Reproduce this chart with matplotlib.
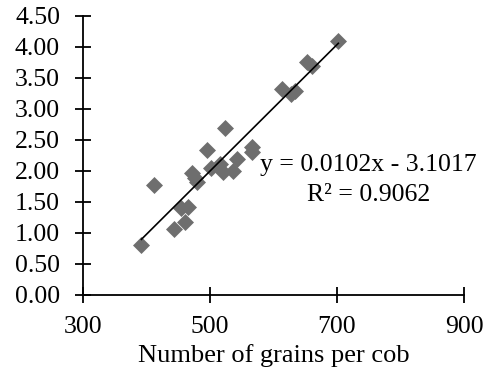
import matplotlib
matplotlib.use("Agg")
import matplotlib.pyplot as plt
import numpy as np

grains = [392, 412, 444, 461, 455, 466, 471, 476, 479, 496, 502, 516, 520, 524,
          536, 542, 566, 566, 613, 627, 634, 652, 660, 702]
yield_vals = [0.81, 1.77, 1.06, 1.18, 1.40, 1.42, 1.96, 1.88, 1.82, 2.33, 2.04, 2.12,
              1.99, 2.69, 2.00, 2.19, 2.39, 2.30, 3.32, 3.24, 3.29, 3.76, 3.69, 4.09]
slope, intercept = 0.0102, -3.1017
xticks = [300, 500, 700, 900]
yticks = [0.0, 0.5, 1.0, 1.5, 2.0, 2.5, 3.0, 3.5, 4.0, 4.5]

plt.rcParams['font.family'] = ['Liberation Serif', 'DejaVu Serif']

fig = plt.figure(figsize=(4.88, 3.71), dpi=100)
ax = fig.add_axes([0.170, 0.205, 0.781, 0.752])

ax.scatter(grains, yield_vals, marker='D', s=75, color='#6e6e6e', zorder=2, linewidths=0)
xl = np.array([min(grains), max(grains)])
ax.plot(xl, slope * xl + intercept, color='black', lw=1.2, zorder=3)

ax.set_xlim(300, 900)
ax.set_ylim(0, 4.5)
ax.set_xticks(xticks)
ax.set_yticks(yticks)
ax.set_yticklabels([f"{v:.2f}" for v in yticks])
ax.tick_params(direction='inout', length=11, width=1.3, labelsize=18.5, colors='black')
ax.tick_params(axis='y', pad=11)
ax.tick_params(axis='x', pad=10)
for s in ['top', 'right']:
    ax.spines[s].set_visible(False)
for s in ['left', 'bottom']:
    ax.spines[s].set_linewidth(1.3)
ax.set_xlabel('Number of grains per cob', fontsize=19, labelpad=4)

ax.text(749, 2.10, 'y = 0.0102x - 3.1017', fontsize=18.5, ha='center', va='center')
ax.text(749, 1.61, 'R² = 0.9062', fontsize=18.5, ha='center', va='center')

fig.savefig('out.png', dpi=100)
